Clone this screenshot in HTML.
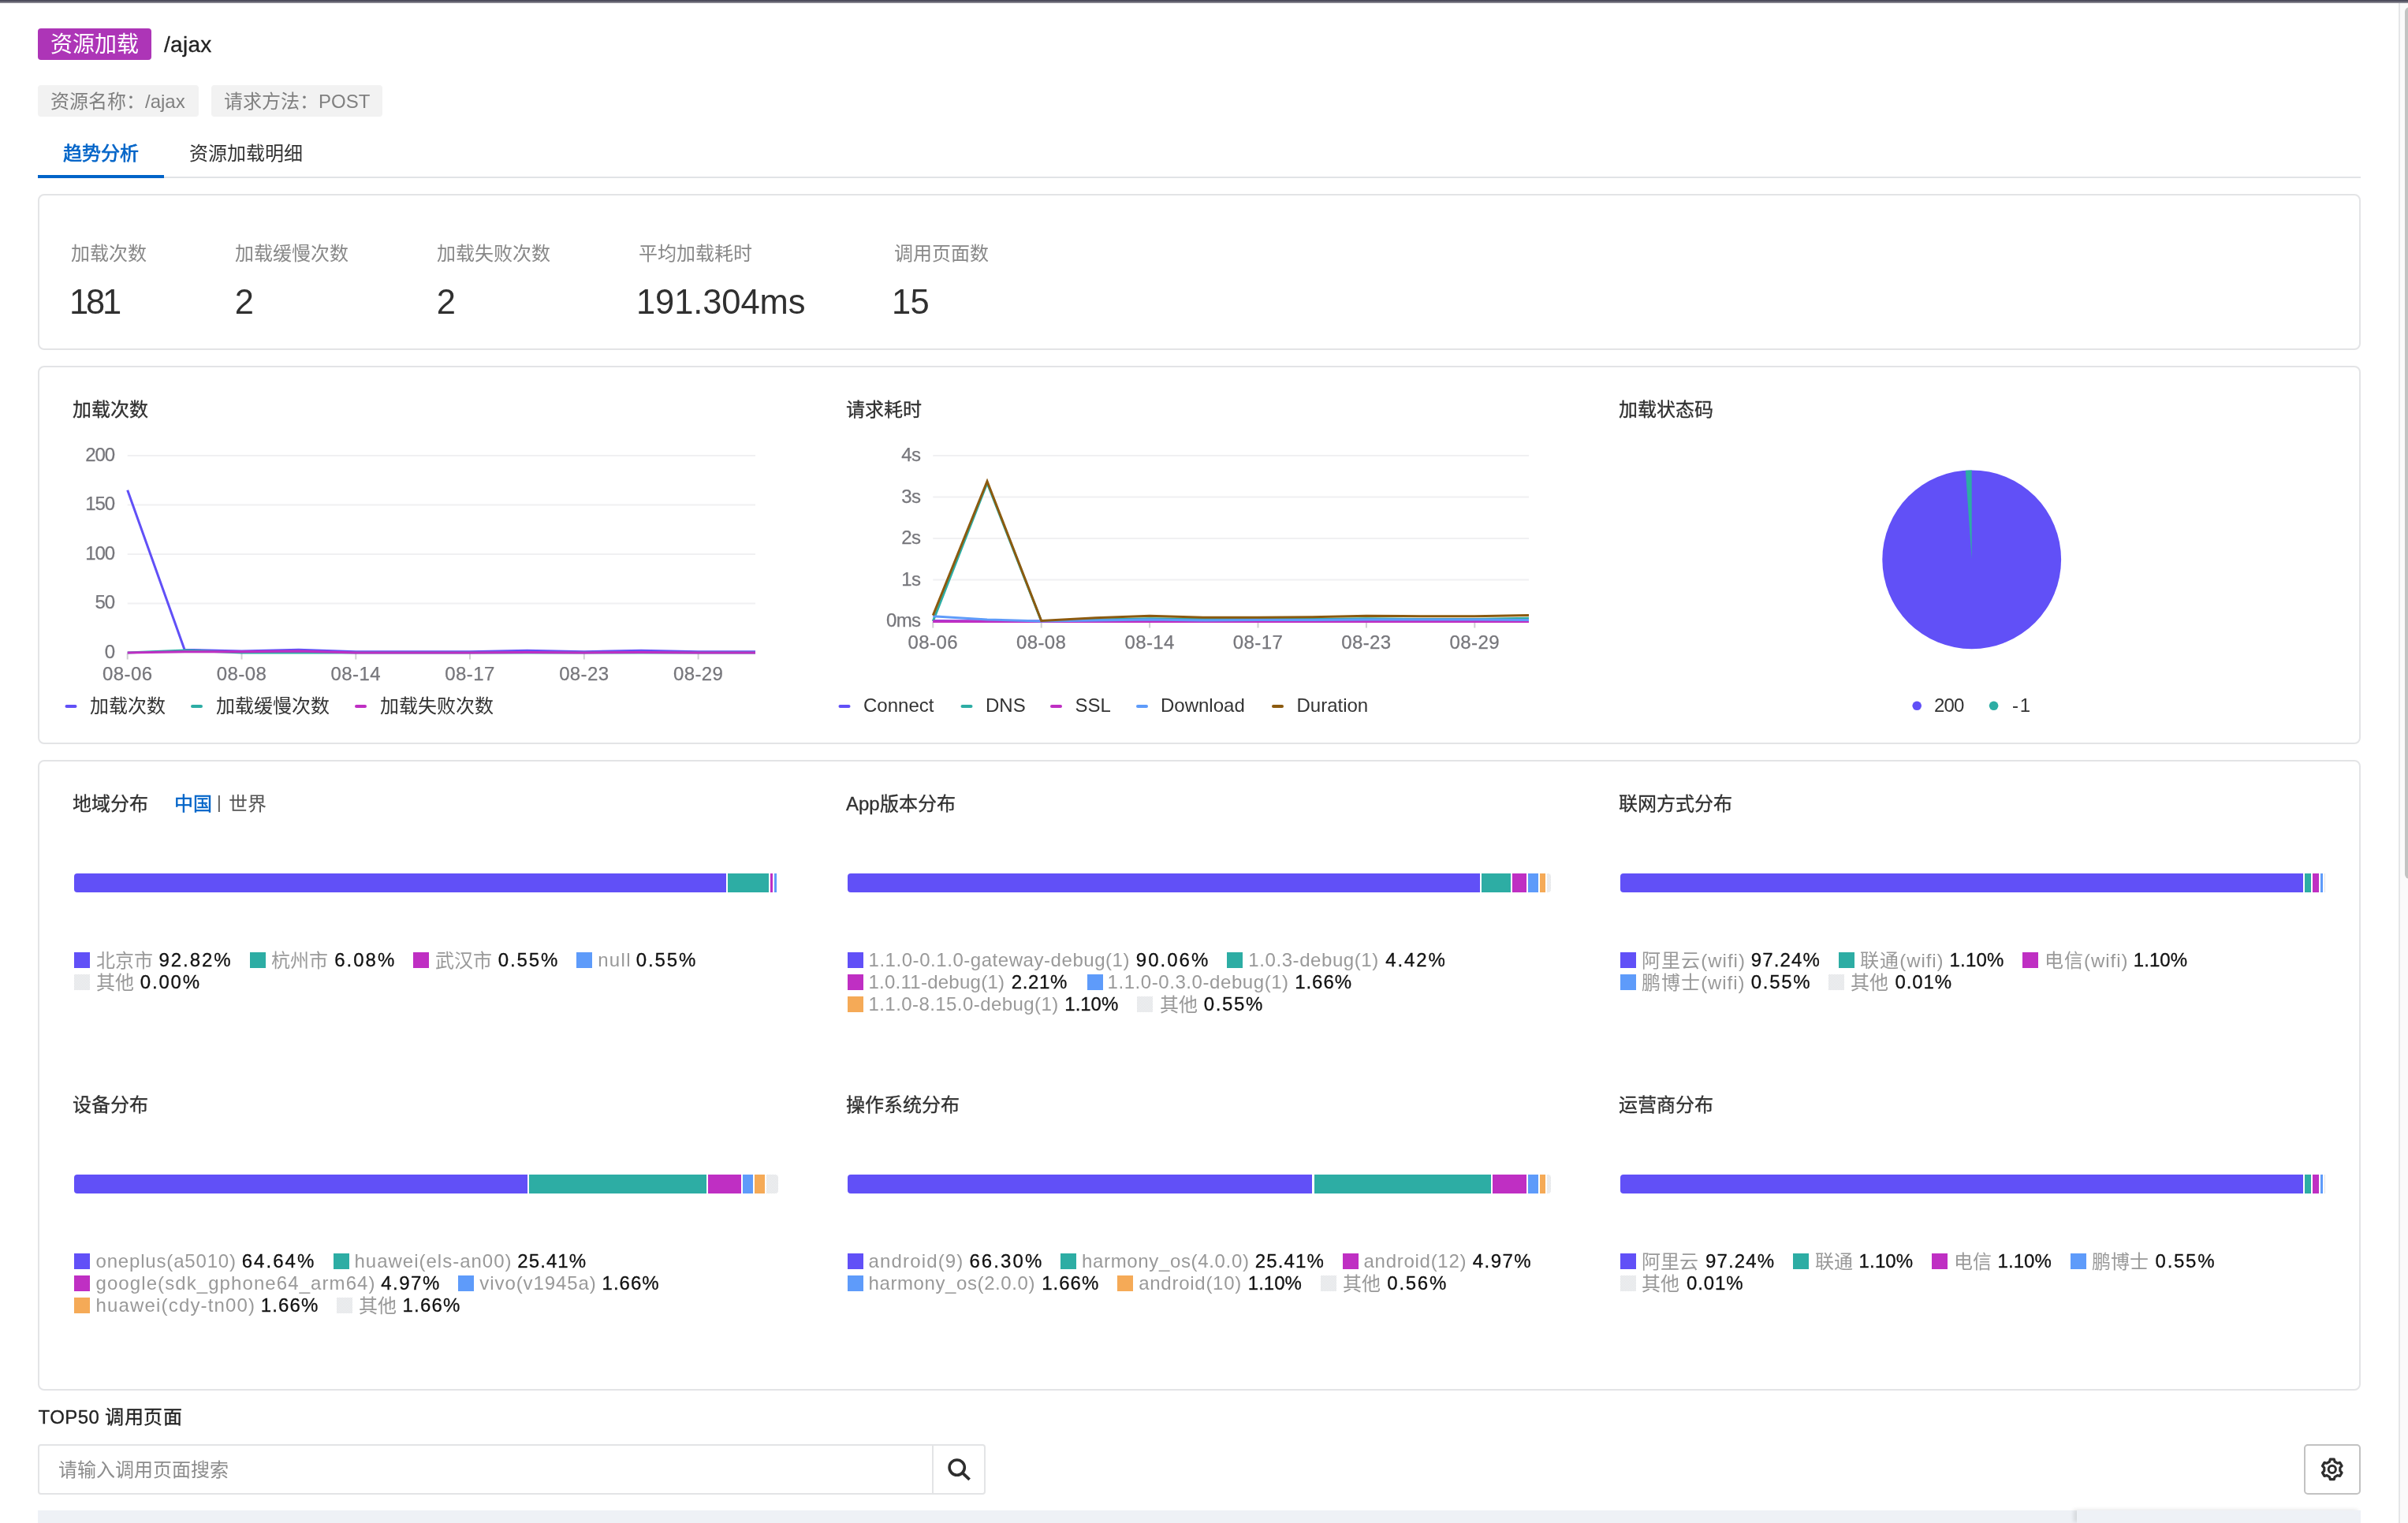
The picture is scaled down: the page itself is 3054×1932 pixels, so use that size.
<!DOCTYPE html>
<html lang="zh-CN"><head><meta charset="utf-8"><title>资源加载 /ajax</title><style>
html,body{margin:0;padding:0;background:#fff;}
body{width:3054px;height:1932px;overflow:hidden;position:relative;font-family:"Liberation Sans",sans-serif;}
#pg{position:absolute;left:0;top:0;width:3054px;height:1932px;will-change:transform;}
.t{position:absolute;white-space:nowrap;margin:0;}
.b{position:absolute;box-sizing:content-box;}
svg{position:absolute;left:0;top:0;}
</style></head>
<body><div id="pg">
<div class="b" style="left:0px;top:0px;width:3054px;height:4px;background:linear-gradient(#4d4c5c 0,#4f4e5e 45%,#75747f 55%,#8a8993 90%,#fff 100%);"></div>
<div class="b" style="left:3042px;top:4px;width:2px;height:1928px;background:#e5e6e8;"></div>
<div class="b" style="left:3044px;top:4px;width:10px;height:1928px;background:#fafafa;"></div>
<div class="b" style="left:3050px;top:9px;width:12px;height:1106px;background:#c2c3c2;border-radius:6px;"></div>
<div class="b" style="left:48px;top:36px;width:144px;height:40px;background:#ad35b7;border-radius:4px;"></div>
<div class="t" style="top:39.90px;font-size:28px;line-height:34px;color:#fff;left:64.00px;">资源加载</div>
<div class="t" style="top:40.00px;font-size:28px;line-height:34px;color:#222;letter-spacing:0.300px;left:208.00px;-webkit-text-stroke:0.3px #222;">/ajax</div>
<div class="b" style="left:48px;top:108px;width:204px;height:40px;background:#f2f2f2;border-radius:4px;"></div>
<div class="b" style="left:268px;top:108px;width:217px;height:40px;background:#f2f2f2;border-radius:4px;"></div>
<div class="t" style="top:115.20px;font-size:24px;line-height:28px;color:#808080;left:64.00px;">资源名称：/ajax</div>
<div class="t" style="top:115.20px;font-size:24px;line-height:28px;color:#808080;left:284.00px;">请求方法：POST</div>
<div class="t" style="top:181.40px;font-size:24px;line-height:28px;color:#0064c8;left:80.00px;-webkit-text-stroke:0.7px #0064c8;">趋势分析</div>
<div class="t" style="top:181.40px;font-size:24px;line-height:28px;color:#333;left:240.00px;">资源加载明细</div>
<div class="b" style="left:48px;top:224px;width:2946px;height:2px;background:#e1e3e6;"></div>
<div class="b" style="left:48px;top:222px;width:160px;height:4px;background:#0064c8;"></div>
<div class="b" style="left:48px;top:246px;width:2942px;height:194px;border:2px solid #e3e4e6;border-radius:8px;"></div>
<div class="b" style="left:48px;top:464px;width:2942px;height:476px;border:2px solid #e3e4e6;border-radius:8px;"></div>
<div class="b" style="left:48px;top:964px;width:2942px;height:796px;border:2px solid #e3e4e6;border-radius:8px;"></div>
<div class="t" style="top:308.20px;font-size:24px;line-height:28px;color:#888;left:90.40px;">加载次数</div>
<div class="t" style="top:357.60px;font-size:43.5px;line-height:50px;color:#303030;letter-spacing:-3.200px;left:88.00px;">181</div>
<div class="t" style="top:308.20px;font-size:24px;line-height:28px;color:#888;left:298.40px;">加载缓慢次数</div>
<div class="t" style="top:357.60px;font-size:43.5px;line-height:50px;color:#303030;left:297.70px;">2</div>
<div class="t" style="top:308.20px;font-size:24px;line-height:28px;color:#888;left:554.40px;">加载失败次数</div>
<div class="t" style="top:357.60px;font-size:43.5px;line-height:50px;color:#303030;left:553.70px;">2</div>
<div class="t" style="top:308.20px;font-size:24px;line-height:28px;color:#888;left:810.40px;">平均加载耗时</div>
<div class="t" style="top:357.60px;font-size:43.5px;line-height:50px;color:#303030;letter-spacing:-0.100px;left:807.00px;">191.304ms</div>
<div class="t" style="top:308.20px;font-size:24px;line-height:28px;color:#888;left:1134.40px;">调用页面数</div>
<div class="t" style="top:357.60px;font-size:43.5px;line-height:50px;color:#303030;letter-spacing:-0.600px;left:1131.00px;">15</div>
<div class="t" style="top:505.70px;font-size:24px;line-height:28px;color:#303030;left:91.50px;-webkit-text-stroke:0.3px #303030;">加载次数</div>
<div class="t" style="top:505.70px;font-size:24px;line-height:28px;color:#303030;left:1073.00px;-webkit-text-stroke:0.3px #303030;">请求耗时</div>
<div class="t" style="top:505.70px;font-size:24px;line-height:28px;color:#303030;left:2053.00px;-webkit-text-stroke:0.3px #303030;">加载状态码</div>
<div class="t" style="top:562.80px;font-size:24px;line-height:28px;color:#76767b;letter-spacing:-1.200px;right:2909.20px;-webkit-text-stroke:0.25px #76767b;">200</div>
<div class="t" style="top:625.30px;font-size:24px;line-height:28px;color:#76767b;letter-spacing:-1.200px;right:2909.20px;-webkit-text-stroke:0.25px #76767b;">150</div>
<div class="t" style="top:687.80px;font-size:24px;line-height:28px;color:#76767b;letter-spacing:-1.200px;right:2909.20px;-webkit-text-stroke:0.25px #76767b;">100</div>
<div class="t" style="top:750.30px;font-size:24px;line-height:28px;color:#76767b;letter-spacing:-1.200px;right:2909.20px;-webkit-text-stroke:0.25px #76767b;">50</div>
<div class="t" style="top:812.80px;font-size:24px;line-height:28px;color:#76767b;letter-spacing:-1.200px;right:2909.20px;-webkit-text-stroke:0.25px #76767b;">0</div>
<div class="t" style="top:840.50px;font-size:24px;line-height:28px;color:#76767b;letter-spacing:0.400px;left:-138.30px;width:600px;text-align:center;-webkit-text-stroke:0.25px #76767b;">08-06</div>
<div class="t" style="top:840.50px;font-size:24px;line-height:28px;color:#76767b;letter-spacing:0.400px;left:6.48px;width:600px;text-align:center;-webkit-text-stroke:0.25px #76767b;">08-08</div>
<div class="t" style="top:840.50px;font-size:24px;line-height:28px;color:#76767b;letter-spacing:0.400px;left:151.26px;width:600px;text-align:center;-webkit-text-stroke:0.25px #76767b;">08-14</div>
<div class="t" style="top:840.50px;font-size:24px;line-height:28px;color:#76767b;letter-spacing:0.400px;left:296.05px;width:600px;text-align:center;-webkit-text-stroke:0.25px #76767b;">08-17</div>
<div class="t" style="top:840.50px;font-size:24px;line-height:28px;color:#76767b;letter-spacing:0.400px;left:440.83px;width:600px;text-align:center;-webkit-text-stroke:0.25px #76767b;">08-23</div>
<div class="t" style="top:840.50px;font-size:24px;line-height:28px;color:#76767b;letter-spacing:0.400px;left:585.61px;width:600px;text-align:center;-webkit-text-stroke:0.25px #76767b;">08-29</div>
<div class="t" style="top:882.20px;font-size:24px;line-height:28px;color:#333;left:114.00px;">加载次数</div>
<div class="t" style="top:882.20px;font-size:24px;line-height:28px;color:#333;left:274.00px;">加载缓慢次数</div>
<div class="t" style="top:882.20px;font-size:24px;line-height:28px;color:#333;left:481.50px;">加载失败次数</div>
<div class="t" style="top:563.00px;font-size:24px;line-height:28px;color:#76767b;letter-spacing:-0.600px;right:1886.50px;-webkit-text-stroke:0.25px #76767b;">4s</div>
<div class="t" style="top:615.50px;font-size:24px;line-height:28px;color:#76767b;letter-spacing:-0.600px;right:1886.50px;-webkit-text-stroke:0.25px #76767b;">3s</div>
<div class="t" style="top:668.00px;font-size:24px;line-height:28px;color:#76767b;letter-spacing:-0.600px;right:1886.50px;-webkit-text-stroke:0.25px #76767b;">2s</div>
<div class="t" style="top:720.50px;font-size:24px;line-height:28px;color:#76767b;letter-spacing:-0.600px;right:1886.50px;-webkit-text-stroke:0.25px #76767b;">1s</div>
<div class="t" style="top:773.00px;font-size:24px;line-height:28px;color:#76767b;letter-spacing:-0.600px;right:1886.50px;-webkit-text-stroke:0.25px #76767b;">0ms</div>
<div class="t" style="top:801.00px;font-size:24px;line-height:28px;color:#76767b;letter-spacing:0.400px;left:883.30px;width:600px;text-align:center;-webkit-text-stroke:0.25px #76767b;">08-06</div>
<div class="t" style="top:801.00px;font-size:24px;line-height:28px;color:#76767b;letter-spacing:0.400px;left:1020.70px;width:600px;text-align:center;-webkit-text-stroke:0.25px #76767b;">08-08</div>
<div class="t" style="top:801.00px;font-size:24px;line-height:28px;color:#76767b;letter-spacing:0.400px;left:1158.10px;width:600px;text-align:center;-webkit-text-stroke:0.25px #76767b;">08-14</div>
<div class="t" style="top:801.00px;font-size:24px;line-height:28px;color:#76767b;letter-spacing:0.400px;left:1295.50px;width:600px;text-align:center;-webkit-text-stroke:0.25px #76767b;">08-17</div>
<div class="t" style="top:801.00px;font-size:24px;line-height:28px;color:#76767b;letter-spacing:0.400px;left:1432.90px;width:600px;text-align:center;-webkit-text-stroke:0.25px #76767b;">08-23</div>
<div class="t" style="top:801.00px;font-size:24px;line-height:28px;color:#76767b;letter-spacing:0.400px;left:1570.30px;width:600px;text-align:center;-webkit-text-stroke:0.25px #76767b;">08-29</div>
<div class="t" style="top:881.00px;font-size:24px;line-height:28px;color:#333;left:1095.00px;">Connect</div>
<div class="t" style="top:881.00px;font-size:24px;line-height:28px;color:#333;left:1250.00px;">DNS</div>
<div class="t" style="top:881.00px;font-size:24px;line-height:28px;color:#333;left:1363.50px;">SSL</div>
<div class="t" style="top:881.00px;font-size:24px;line-height:28px;color:#333;left:1472.00px;">Download</div>
<div class="t" style="top:881.00px;font-size:24px;line-height:28px;color:#333;left:1644.50px;">Duration</div>
<div class="t" style="top:880.50px;font-size:24px;line-height:28px;color:#333;letter-spacing:-0.900px;left:2453.00px;">200</div>
<div class="t" style="top:880.50px;font-size:24px;line-height:28px;color:#333;letter-spacing:1.800px;left:2552.00px;">-1</div>
<div class="t" style="top:1005.70px;font-size:24px;line-height:28px;color:#303030;left:91.50px;-webkit-text-stroke:0.3px #303030;">地域分布</div>
<div class="t" style="top:1005.70px;font-size:24px;line-height:28px;color:#0064c8;left:220.50px;-webkit-text-stroke:0.5px #0064c8;">中国</div>
<div class="t" style="top:1005.00px;font-size:22px;line-height:26px;color:#555;left:275.00px;">|</div>
<div class="t" style="top:1005.70px;font-size:24px;line-height:28px;color:#555;left:290.00px;">世界</div>
<div class="t" style="top:1005.70px;font-size:24px;line-height:28px;color:#303030;left:1073.00px;-webkit-text-stroke:0.3px #303030;">App版本分布</div>
<div class="t" style="top:1005.70px;font-size:24px;line-height:28px;color:#303030;left:2053.00px;-webkit-text-stroke:0.3px #303030;">联网方式分布</div>
<div class="t" style="top:1387.70px;font-size:24px;line-height:28px;color:#303030;left:91.50px;-webkit-text-stroke:0.3px #303030;">设备分布</div>
<div class="t" style="top:1387.70px;font-size:24px;line-height:28px;color:#303030;left:1073.00px;-webkit-text-stroke:0.3px #303030;">操作系统分布</div>
<div class="t" style="top:1387.70px;font-size:24px;line-height:28px;color:#303030;left:2053.00px;-webkit-text-stroke:0.3px #303030;">运营商分布</div>
<div class="b" style="left:94.00px;top:1108px;width:826.58px;height:24px;background:#6150f7;border-radius:4px 0 0 4px;"></div>
<div class="b" style="left:922.58px;top:1108px;width:52.27px;height:24px;background:#2dada4;"></div>
<div class="b" style="left:976.85px;top:1108px;width:2.91px;height:24px;background:#bf2fc3;"></div>
<div class="b" style="left:981.76px;top:1108px;width:2.91px;height:24px;background:#5e9bfa;"></div>
<div class="b" style="left:1074.67px;top:1108px;width:801.94px;height:24px;background:#6150f7;border-radius:4px 0 0 4px;"></div>
<div class="b" style="left:1878.61px;top:1108px;width:37.46px;height:24px;background:#2dada4;"></div>
<div class="b" style="left:1918.06px;top:1108px;width:17.73px;height:24px;background:#bf2fc3;"></div>
<div class="b" style="left:1937.79px;top:1108px;width:12.82px;height:24px;background:#5e9bfa;"></div>
<div class="b" style="left:1952.61px;top:1108px;width:7.82px;height:24px;background:#f5aa57;"></div>
<div class="b" style="left:1962.43px;top:1108px;width:4.91px;height:24px;background:repeating-conic-gradient(#e1e3e6 0% 25%,#f2f3f4 0% 50%) 0 0/2px 2px;border-radius:0 4px 4px 0;"></div>
<div class="b" style="left:2055.33px;top:1108px;width:866.03px;height:24px;background:#6150f7;border-radius:4px 0 0 4px;"></div>
<div class="b" style="left:2923.36px;top:1108px;width:7.82px;height:24px;background:#2dada4;"></div>
<div class="b" style="left:2933.18px;top:1108px;width:7.82px;height:24px;background:#bf2fc3;"></div>
<div class="b" style="left:2943.00px;top:1108px;width:2.91px;height:24px;background:#5e9bfa;"></div>
<div class="b" style="left:2947.91px;top:1108px;width:1.50px;height:24px;background:#e3e4e7;"></div>
<div class="b" style="left:94.00px;top:1490px;width:575.02px;height:24px;background:#6150f7;border-radius:4px 0 0 4px;"></div>
<div class="b" style="left:671.02px;top:1490px;width:224.83px;height:24px;background:#2dada4;"></div>
<div class="b" style="left:897.85px;top:1490px;width:42.37px;height:24px;background:#bf2fc3;"></div>
<div class="b" style="left:942.22px;top:1490px;width:12.82px;height:24px;background:#5e9bfa;"></div>
<div class="b" style="left:957.03px;top:1490px;width:12.82px;height:24px;background:#f5aa57;"></div>
<div class="b" style="left:971.85px;top:1490px;width:14.82px;height:24px;background:repeating-conic-gradient(#e1e3e6 0% 25%,#f2f3f4 0% 50%) 0 0/2px 2px;border-radius:0 4px 4px 0;"></div>
<div class="b" style="left:1074.67px;top:1490px;width:589.84px;height:24px;background:#6150f7;border-radius:4px 0 0 4px;"></div>
<div class="b" style="left:1666.51px;top:1490px;width:224.83px;height:24px;background:#2dada4;"></div>
<div class="b" style="left:1893.34px;top:1490px;width:42.37px;height:24px;background:#bf2fc3;"></div>
<div class="b" style="left:1937.70px;top:1490px;width:12.82px;height:24px;background:#5e9bfa;"></div>
<div class="b" style="left:1952.52px;top:1490px;width:7.82px;height:24px;background:#f5aa57;"></div>
<div class="b" style="left:1962.34px;top:1490px;width:5.00px;height:24px;background:repeating-conic-gradient(#e1e3e6 0% 25%,#f2f3f4 0% 50%) 0 0/2px 2px;border-radius:0 4px 4px 0;"></div>
<div class="b" style="left:2055.33px;top:1490px;width:866.03px;height:24px;background:#6150f7;border-radius:4px 0 0 4px;"></div>
<div class="b" style="left:2923.36px;top:1490px;width:7.82px;height:24px;background:#2dada4;"></div>
<div class="b" style="left:2933.18px;top:1490px;width:7.82px;height:24px;background:#bf2fc3;"></div>
<div class="b" style="left:2943.00px;top:1490px;width:2.91px;height:24px;background:#5e9bfa;"></div>
<div class="b" style="left:2947.91px;top:1490px;width:1.50px;height:24px;background:#e3e4e7;"></div>
<div class="b" style="left:94px;top:1208px;width:20px;height:20px;background:#6150f7;"></div>
<div class="t" style="top:1205.20px;font-size:24px;line-height:28px;color:#999;left:121.50px;">北京市</div>
<div class="t" style="top:1204.00px;font-size:24px;line-height:28px;color:#111;letter-spacing:1.899px;left:201.60px;-webkit-text-stroke:0.3px #111;">92.82%</div>
<div class="b" style="left:317px;top:1208px;width:20px;height:20px;background:#2dada4;"></div>
<div class="t" style="top:1205.20px;font-size:24px;line-height:28px;color:#999;left:343.50px;">杭州市</div>
<div class="t" style="top:1204.00px;font-size:24px;line-height:28px;color:#111;letter-spacing:2.009px;left:424.20px;-webkit-text-stroke:0.3px #111;">6.08%</div>
<div class="b" style="left:524px;top:1208px;width:20px;height:20px;background:#bf2fc3;"></div>
<div class="t" style="top:1205.20px;font-size:24px;line-height:28px;color:#999;left:551.50px;">武汉市</div>
<div class="t" style="top:1204.00px;font-size:24px;line-height:28px;color:#111;letter-spacing:1.859px;left:631.80px;-webkit-text-stroke:0.3px #111;">0.55%</div>
<div class="b" style="left:731px;top:1208px;width:20px;height:20px;background:#5e9bfa;"></div>
<div class="t" style="top:1204.00px;font-size:24px;line-height:28px;color:#999;letter-spacing:1.314px;left:758.20px;">null</div>
<div class="t" style="top:1204.00px;font-size:24px;line-height:28px;color:#111;letter-spacing:1.859px;left:806.80px;-webkit-text-stroke:0.3px #111;">0.55%</div>
<div class="b" style="left:94px;top:1236px;width:20px;height:20px;background:repeating-conic-gradient(#e1e3e6 0% 25%,#f2f3f4 0% 50%) 0 0/2px 2px;"></div>
<div class="t" style="top:1233.20px;font-size:24px;line-height:28px;color:#999;left:121.50px;">其他</div>
<div class="t" style="top:1232.00px;font-size:24px;line-height:28px;color:#111;letter-spacing:1.809px;left:177.80px;-webkit-text-stroke:0.3px #111;">0.00%</div>
<div class="b" style="left:1075px;top:1208px;width:20px;height:20px;background:#6150f7;"></div>
<div class="t" style="top:1204.00px;font-size:24px;line-height:28px;color:#999;letter-spacing:0.548px;left:1101.50px;">1.1.0-0.1.0-gateway-debug(1)</div>
<div class="t" style="top:1204.00px;font-size:24px;line-height:28px;color:#111;letter-spacing:2.019px;left:1440.80px;-webkit-text-stroke:0.3px #111;">90.06%</div>
<div class="b" style="left:1555.8px;top:1208px;width:20px;height:20px;background:#2dada4;"></div>
<div class="t" style="top:1204.00px;font-size:24px;line-height:28px;color:#999;letter-spacing:0.581px;left:1583.30px;">1.0.3-debug(1)</div>
<div class="t" style="top:1204.00px;font-size:24px;line-height:28px;color:#111;letter-spacing:1.884px;left:1757.20px;-webkit-text-stroke:0.3px #111;">4.42%</div>
<div class="b" style="left:1075px;top:1236px;width:20px;height:20px;background:#bf2fc3;"></div>
<div class="t" style="top:1232.00px;font-size:24px;line-height:28px;color:#999;letter-spacing:0.249px;left:1101.50px;">1.0.11-debug(1)</div>
<div class="t" style="top:1232.00px;font-size:24px;line-height:28px;color:#111;letter-spacing:0.609px;left:1282.80px;-webkit-text-stroke:0.3px #111;">2.21%</div>
<div class="b" style="left:1378.5px;top:1236px;width:20px;height:20px;background:#5e9bfa;"></div>
<div class="t" style="top:1232.00px;font-size:24px;line-height:28px;color:#999;letter-spacing:0.568px;left:1404.50px;">1.1.0-0.3.0-debug(1)</div>
<div class="t" style="top:1232.00px;font-size:24px;line-height:28px;color:#111;letter-spacing:0.959px;left:1642.20px;-webkit-text-stroke:0.3px #111;">1.66%</div>
<div class="b" style="left:1075px;top:1264px;width:20px;height:20px;background:#f5aa57;"></div>
<div class="t" style="top:1260.00px;font-size:24px;line-height:28px;color:#999;letter-spacing:0.426px;left:1101.50px;">1.1.0-8.15.0-debug(1)</div>
<div class="t" style="top:1260.00px;font-size:24px;line-height:28px;color:#111;letter-spacing:-0.016px;left:1350.30px;-webkit-text-stroke:0.3px #111;">1.10%</div>
<div class="b" style="left:1442px;top:1264px;width:20px;height:20px;background:repeating-conic-gradient(#e1e3e6 0% 25%,#f2f3f4 0% 50%) 0 0/2px 2px;"></div>
<div class="t" style="top:1261.20px;font-size:24px;line-height:28px;color:#999;left:1470.50px;">其他</div>
<div class="t" style="top:1260.00px;font-size:24px;line-height:28px;color:#111;letter-spacing:1.609px;left:1526.80px;-webkit-text-stroke:0.3px #111;">0.55%</div>
<div class="b" style="left:2055px;top:1208px;width:20px;height:20px;background:#6150f7;"></div>
<div class="t" style="top:1205.20px;font-size:24px;line-height:28px;color:#999;letter-spacing:0.993px;left:2082.30px;">阿里云(wifi)</div>
<div class="t" style="top:1204.00px;font-size:24px;line-height:28px;color:#111;letter-spacing:1.119px;left:2220.80px;-webkit-text-stroke:0.3px #111;">97.24%</div>
<div class="b" style="left:2332.2px;top:1208px;width:20px;height:20px;background:#2dada4;"></div>
<div class="t" style="top:1205.20px;font-size:24px;line-height:28px;color:#999;letter-spacing:0.921px;left:2359.40px;">联通(wifi)</div>
<div class="t" style="top:1204.00px;font-size:24px;line-height:28px;color:#111;letter-spacing:0.184px;left:2472.50px;-webkit-text-stroke:0.3px #111;">1.10%</div>
<div class="b" style="left:2565px;top:1208px;width:20px;height:20px;background:#bf2fc3;"></div>
<div class="t" style="top:1205.20px;font-size:24px;line-height:28px;color:#999;letter-spacing:0.963px;left:2593.10px;">电信(wifi)</div>
<div class="t" style="top:1204.00px;font-size:24px;line-height:28px;color:#111;letter-spacing:0.034px;left:2705.80px;-webkit-text-stroke:0.3px #111;">1.10%</div>
<div class="b" style="left:2055px;top:1236px;width:20px;height:20px;background:#5e9bfa;"></div>
<div class="t" style="top:1233.20px;font-size:24px;line-height:28px;color:#999;letter-spacing:0.943px;left:2082.30px;">鹏博士(wifi)</div>
<div class="t" style="top:1232.00px;font-size:24px;line-height:28px;color:#111;letter-spacing:1.684px;left:2220.80px;-webkit-text-stroke:0.3px #111;">0.55%</div>
<div class="b" style="left:2319px;top:1236px;width:20px;height:20px;background:repeating-conic-gradient(#e1e3e6 0% 25%,#f2f3f4 0% 50%) 0 0/2px 2px;"></div>
<div class="t" style="top:1233.20px;font-size:24px;line-height:28px;color:#999;left:2347.20px;">其他</div>
<div class="t" style="top:1232.00px;font-size:24px;line-height:28px;color:#111;letter-spacing:0.859px;left:2403.50px;-webkit-text-stroke:0.3px #111;">0.01%</div>
<div class="b" style="left:94px;top:1590px;width:20px;height:20px;background:#6150f7;"></div>
<div class="t" style="top:1586.00px;font-size:24px;line-height:28px;color:#999;letter-spacing:0.823px;left:121.50px;">oneplus(a5010)</div>
<div class="t" style="top:1586.00px;font-size:24px;line-height:28px;color:#111;letter-spacing:2.039px;left:306.70px;-webkit-text-stroke:0.3px #111;">64.64%</div>
<div class="b" style="left:422.9px;top:1590px;width:20px;height:20px;background:#2dada4;"></div>
<div class="t" style="top:1586.00px;font-size:24px;line-height:28px;color:#999;letter-spacing:0.993px;left:449.50px;">huawei(els-an00)</div>
<div class="t" style="top:1586.00px;font-size:24px;line-height:28px;color:#111;letter-spacing:1.079px;left:656.30px;-webkit-text-stroke:0.3px #111;">25.41%</div>
<div class="b" style="left:94px;top:1618px;width:20px;height:20px;background:#bf2fc3;"></div>
<div class="t" style="top:1614.00px;font-size:24px;line-height:28px;color:#999;letter-spacing:1.084px;left:121.50px;">google(sdk_gphone64_arm64)</div>
<div class="t" style="top:1614.00px;font-size:24px;line-height:28px;color:#111;letter-spacing:1.509px;left:483.20px;-webkit-text-stroke:0.3px #111;">4.97%</div>
<div class="b" style="left:581px;top:1618px;width:20px;height:20px;background:#5e9bfa;"></div>
<div class="t" style="top:1614.00px;font-size:24px;line-height:28px;color:#999;letter-spacing:0.918px;left:608.30px;">vivo(v1945a)</div>
<div class="t" style="top:1614.00px;font-size:24px;line-height:28px;color:#111;letter-spacing:1.034px;left:763.50px;-webkit-text-stroke:0.3px #111;">1.66%</div>
<div class="b" style="left:94px;top:1646px;width:20px;height:20px;background:#f5aa57;"></div>
<div class="t" style="top:1642.00px;font-size:24px;line-height:28px;color:#999;letter-spacing:1.167px;left:121.50px;">huawei(cdy-tn00)</div>
<div class="t" style="top:1642.00px;font-size:24px;line-height:28px;color:#111;letter-spacing:1.109px;left:330.80px;-webkit-text-stroke:0.3px #111;">1.66%</div>
<div class="b" style="left:427px;top:1646px;width:20px;height:20px;background:repeating-conic-gradient(#e1e3e6 0% 25%,#f2f3f4 0% 50%) 0 0/2px 2px;"></div>
<div class="t" style="top:1643.20px;font-size:24px;line-height:28px;color:#999;left:455.00px;">其他</div>
<div class="t" style="top:1642.00px;font-size:24px;line-height:28px;color:#111;letter-spacing:1.159px;left:510.60px;-webkit-text-stroke:0.3px #111;">1.66%</div>
<div class="b" style="left:1075px;top:1590px;width:20px;height:20px;background:#6150f7;"></div>
<div class="t" style="top:1586.00px;font-size:24px;line-height:28px;color:#999;letter-spacing:1.155px;left:1101.50px;">android(9)</div>
<div class="t" style="top:1586.00px;font-size:24px;line-height:28px;color:#111;letter-spacing:2.099px;left:1229.40px;-webkit-text-stroke:0.3px #111;">66.30%</div>
<div class="b" style="left:1345.2px;top:1590px;width:20px;height:20px;background:#2dada4;"></div>
<div class="t" style="top:1586.00px;font-size:24px;line-height:28px;color:#999;letter-spacing:0.654px;left:1372.00px;">harmony_os(4.0.0)</div>
<div class="t" style="top:1586.00px;font-size:24px;line-height:28px;color:#111;letter-spacing:1.119px;left:1591.80px;-webkit-text-stroke:0.3px #111;">25.41%</div>
<div class="b" style="left:1702.8px;top:1590px;width:20px;height:20px;background:#bf2fc3;"></div>
<div class="t" style="top:1586.00px;font-size:24px;line-height:28px;color:#999;letter-spacing:0.725px;left:1729.50px;">android(12)</div>
<div class="t" style="top:1586.00px;font-size:24px;line-height:28px;color:#111;letter-spacing:1.434px;left:1867.80px;-webkit-text-stroke:0.3px #111;">4.97%</div>
<div class="b" style="left:1075px;top:1618px;width:20px;height:20px;background:#5e9bfa;"></div>
<div class="t" style="top:1614.00px;font-size:24px;line-height:28px;color:#999;letter-spacing:0.598px;left:1101.50px;">harmony_os(2.0.0)</div>
<div class="t" style="top:1614.00px;font-size:24px;line-height:28px;color:#111;letter-spacing:1.009px;left:1321.20px;-webkit-text-stroke:0.3px #111;">1.66%</div>
<div class="b" style="left:1417px;top:1618px;width:20px;height:20px;background:#f5aa57;"></div>
<div class="t" style="top:1614.00px;font-size:24px;line-height:28px;color:#999;letter-spacing:0.735px;left:1444.20px;">android(10)</div>
<div class="t" style="top:1614.00px;font-size:24px;line-height:28px;color:#111;letter-spacing:0.009px;left:1582.80px;-webkit-text-stroke:0.3px #111;">1.10%</div>
<div class="b" style="left:1675.4px;top:1618px;width:20px;height:20px;background:repeating-conic-gradient(#e1e3e6 0% 25%,#f2f3f4 0% 50%) 0 0/2px 2px;"></div>
<div class="t" style="top:1615.20px;font-size:24px;line-height:28px;color:#999;left:1703.00px;">其他</div>
<div class="t" style="top:1614.00px;font-size:24px;line-height:28px;color:#111;letter-spacing:1.734px;left:1759.30px;-webkit-text-stroke:0.3px #111;">0.56%</div>
<div class="b" style="left:2055px;top:1590px;width:20px;height:20px;background:#6150f7;"></div>
<div class="t" style="top:1587.20px;font-size:24px;line-height:28px;color:#999;left:2082.30px;">阿里云</div>
<div class="t" style="top:1586.00px;font-size:24px;line-height:28px;color:#111;letter-spacing:1.159px;left:2163.00px;-webkit-text-stroke:0.3px #111;">97.24%</div>
<div class="b" style="left:2274.1px;top:1590px;width:20px;height:20px;background:#2dada4;"></div>
<div class="t" style="top:1587.20px;font-size:24px;line-height:28px;color:#999;left:2301.70px;">联通</div>
<div class="t" style="top:1586.00px;font-size:24px;line-height:28px;color:#111;letter-spacing:0.134px;left:2357.60px;-webkit-text-stroke:0.3px #111;">1.10%</div>
<div class="b" style="left:2450.1px;top:1590px;width:20px;height:20px;background:#bf2fc3;"></div>
<div class="t" style="top:1587.20px;font-size:24px;line-height:28px;color:#999;left:2478.10px;">电信</div>
<div class="t" style="top:1586.00px;font-size:24px;line-height:28px;color:#111;letter-spacing:0.034px;left:2533.60px;-webkit-text-stroke:0.3px #111;">1.10%</div>
<div class="b" style="left:2626.2px;top:1590px;width:20px;height:20px;background:#5e9bfa;"></div>
<div class="t" style="top:1587.20px;font-size:24px;line-height:28px;color:#999;left:2652.50px;">鹏博士</div>
<div class="t" style="top:1586.00px;font-size:24px;line-height:28px;color:#111;letter-spacing:1.709px;left:2733.60px;-webkit-text-stroke:0.3px #111;">0.55%</div>
<div class="b" style="left:2055px;top:1618px;width:20px;height:20px;background:repeating-conic-gradient(#e1e3e6 0% 25%,#f2f3f4 0% 50%) 0 0/2px 2px;"></div>
<div class="t" style="top:1615.20px;font-size:24px;line-height:28px;color:#999;left:2082.30px;">其他</div>
<div class="t" style="top:1614.00px;font-size:24px;line-height:28px;color:#111;letter-spacing:0.884px;left:2139.00px;-webkit-text-stroke:0.3px #111;">0.01%</div>
<div class="t" style="top:1784.20px;font-size:24px;line-height:28px;color:#222;letter-spacing:0.450px;left:48.50px;-webkit-text-stroke:0.3px #222;">TOP50 调用页面</div>
<div class="b" style="left:48px;top:1832px;width:1198px;height:60px;border:2px solid #e3e4e6;border-radius:4px;"></div>
<div class="b" style="left:1182px;top:1834px;width:2px;height:60px;background:#e3e4e6;"></div>
<div class="t" style="top:1851.20px;font-size:24px;line-height:28px;color:#8c8c8c;left:74.00px;">请输入调用页面搜索</div>
<div class="b" style="left:2922px;top:1832px;width:68px;height:60px;border:2px solid #c2c2c2;border-radius:5px;"></div>
<div class="b" style="left:48px;top:1916px;width:2946px;height:16px;background:#eef1f6;"></div>
<div class="b" style="left:2634px;top:1916px;width:360px;height:16px;background:#eef1f6;box-shadow:-4px -1px 5px rgba(0,0,0,0.10);"></div>
<svg width="3054" height="1932" viewBox="0 0 3054 1932">
<line x1="161.7" y1="578" x2="958.0" y2="578" stroke="#f0f0f2" stroke-width="2"/>
<line x1="161.7" y1="640.5" x2="958.0" y2="640.5" stroke="#f0f0f2" stroke-width="2"/>
<line x1="161.7" y1="703" x2="958.0" y2="703" stroke="#f0f0f2" stroke-width="2"/>
<line x1="161.7" y1="765.5" x2="958.0" y2="765.5" stroke="#f0f0f2" stroke-width="2"/>
<line x1="161.7" y1="828" x2="958.0" y2="828" stroke="#f0f0f2" stroke-width="2"/>
<line x1="161.7" y1="829" x2="161.7" y2="836.5" stroke="#cfcfd2" stroke-width="2"/>
<line x1="306.5" y1="829" x2="306.5" y2="836.5" stroke="#cfcfd2" stroke-width="2"/>
<line x1="451.3" y1="829" x2="451.3" y2="836.5" stroke="#cfcfd2" stroke-width="2"/>
<line x1="596.0" y1="829" x2="596.0" y2="836.5" stroke="#cfcfd2" stroke-width="2"/>
<line x1="740.8" y1="829" x2="740.8" y2="836.5" stroke="#cfcfd2" stroke-width="2"/>
<line x1="885.6" y1="829" x2="885.6" y2="836.5" stroke="#cfcfd2" stroke-width="2"/>
<polyline points="161.7,621.8 234.1,824.2 306.5,826.1 378.9,824.2 451.3,826.8 523.7,826.8 596.0,826.8 668.4,825.2 740.8,826.8 813.2,825.2 885.6,826.8 958.0,826.8" fill="none" stroke="#6150f7" stroke-width="3" stroke-linejoin="miter" stroke-miterlimit="10" stroke-linecap="butt"/>
<polyline points="161.7,828.0 234.1,824.9 306.5,828.0 378.9,828.0 451.3,828.0 523.7,828.0 596.0,828.0 668.4,828.0 740.8,828.0 813.2,828.0 885.6,828.0 958.0,828.0" fill="none" stroke="#2dada4" stroke-width="3" stroke-linejoin="miter" stroke-miterlimit="10" stroke-linecap="butt"/>
<polyline points="161.7,828.0 234.1,826.8 306.5,826.8 378.9,826.1 451.3,828.0 523.7,828.0 596.0,828.0 668.4,827.4 740.8,828.0 813.2,827.4 885.6,828.0 958.0,828.0" fill="none" stroke="#bf2fc3" stroke-width="3" stroke-linejoin="miter" stroke-miterlimit="10" stroke-linecap="butt"/>
<line x1="84.5" y1="896" x2="95.5" y2="896" stroke="#6150f7" stroke-width="4" stroke-linecap="round"/>
<line x1="244" y1="896" x2="255" y2="896" stroke="#2dada4" stroke-width="4" stroke-linecap="round"/>
<line x1="452" y1="896" x2="463" y2="896" stroke="#bf2fc3" stroke-width="4" stroke-linecap="round"/>
<line x1="1183.3" y1="578" x2="1939.0" y2="578" stroke="#f0f0f2" stroke-width="2"/>
<line x1="1183.3" y1="630.5" x2="1939.0" y2="630.5" stroke="#f0f0f2" stroke-width="2"/>
<line x1="1183.3" y1="683" x2="1939.0" y2="683" stroke="#f0f0f2" stroke-width="2"/>
<line x1="1183.3" y1="735.5" x2="1939.0" y2="735.5" stroke="#f0f0f2" stroke-width="2"/>
<line x1="1183.3" y1="788" x2="1939.0" y2="788" stroke="#f0f0f2" stroke-width="2"/>
<line x1="1183.3" y1="789" x2="1183.3" y2="796.5" stroke="#cfcfd2" stroke-width="2"/>
<line x1="1320.7" y1="789" x2="1320.7" y2="796.5" stroke="#cfcfd2" stroke-width="2"/>
<line x1="1458.1" y1="789" x2="1458.1" y2="796.5" stroke="#cfcfd2" stroke-width="2"/>
<line x1="1595.5" y1="789" x2="1595.5" y2="796.5" stroke="#cfcfd2" stroke-width="2"/>
<line x1="1732.9" y1="789" x2="1732.9" y2="796.5" stroke="#cfcfd2" stroke-width="2"/>
<line x1="1870.3" y1="789" x2="1870.3" y2="796.5" stroke="#cfcfd2" stroke-width="2"/>
<polyline points="1183.3,787.5 1252.0,788.0 1320.7,788.0 1389.4,788.0 1458.1,788.0 1526.8,788.0 1595.5,788.0 1664.2,788.0 1732.9,788.0 1801.6,788.0 1870.3,788.0 1939.0,788.0" fill="none" stroke="#6150f7" stroke-width="3" stroke-linejoin="miter" stroke-miterlimit="10" stroke-linecap="butt"/>
<polyline points="1183.3,788.0 1252.0,612.6 1320.7,788.0 1389.4,785.9 1458.1,784.8 1526.8,785.4 1595.5,785.4 1664.2,785.4 1732.9,784.8 1801.6,785.4 1870.3,785.4 1939.0,784.3" fill="none" stroke="#2dada4" stroke-width="3" stroke-linejoin="miter" stroke-miterlimit="10" stroke-linecap="butt"/>
<polyline points="1183.3,788.0 1252.0,788.0 1320.7,788.0 1389.4,788.0 1458.1,788.0 1526.8,788.0 1595.5,788.0 1664.2,788.0 1732.9,788.0 1801.6,788.0 1870.3,788.0 1939.0,788.0" fill="none" stroke="#bf2fc3" stroke-width="3" stroke-linejoin="miter" stroke-miterlimit="10" stroke-linecap="butt"/>
<line x1="1183.3" y1="788.5" x2="1939.0" y2="788.5" stroke="#bf2fc3" stroke-width="3"/>
<polyline points="1183.3,781.7 1252.0,785.9 1320.7,788.0 1389.4,786.9 1458.1,785.9 1526.8,786.9 1595.5,786.4 1664.2,786.4 1732.9,785.9 1801.6,785.9 1870.3,785.9 1939.0,786.4" fill="none" stroke="#5e9bfa" stroke-width="3" stroke-linejoin="miter" stroke-miterlimit="10" stroke-linecap="butt"/>
<polyline points="1183.3,780.6 1252.0,610.5 1320.7,787.5 1389.4,783.8 1458.1,781.2 1526.8,783.3 1595.5,783.3 1664.2,782.7 1732.9,781.2 1801.6,781.7 1870.3,781.7 1939.0,780.6" fill="none" stroke="#8c5a0f" stroke-width="3" stroke-linejoin="miter" stroke-miterlimit="10" stroke-linecap="butt"/>
<line x1="1065.5" y1="896" x2="1076.5" y2="896" stroke="#6150f7" stroke-width="4" stroke-linecap="round"/>
<line x1="1220.5" y1="896" x2="1231.5" y2="896" stroke="#2dada4" stroke-width="4" stroke-linecap="round"/>
<line x1="1334" y1="896" x2="1345" y2="896" stroke="#bf2fc3" stroke-width="4" stroke-linecap="round"/>
<line x1="1443" y1="896" x2="1454" y2="896" stroke="#5e9bfa" stroke-width="4" stroke-linecap="round"/>
<line x1="1615" y1="896" x2="1626" y2="896" stroke="#8c5a0f" stroke-width="4" stroke-linecap="round"/>
<circle cx="2500.7" cy="709.8" r="113.4" fill="#6150f7"/>
<path d="M2500.7,709.8 L2492.79,596.68 A113.4,113.4 0 0 1 2500.7,596.4 Z" fill="#2dada4"/>
<circle cx="2431.2" cy="895.3" r="5.8" fill="#6150f7"/>
<circle cx="2528.6" cy="895.3" r="5.8" fill="#2dada4"/>
<circle cx="1213.7" cy="1861.6" r="9.6" fill="none" stroke="#2e2e2e" stroke-width="3.6"/>
<line x1="1220.6" y1="1868.4" x2="1229.6" y2="1876.9" stroke="#2e2e2e" stroke-width="3.8"/>
<path d="M2954.48,1854.26 L2955.32,1851.14 L2960.28,1851.14 L2961.12,1854.26 L2964.49,1856.20 L2967.61,1855.37 L2970.09,1859.67 L2967.81,1861.95 L2967.81,1865.85 L2970.09,1868.13 L2967.61,1872.43 L2964.49,1871.60 L2961.12,1873.54 L2960.28,1876.66 L2955.32,1876.66 L2954.48,1873.54 L2951.11,1871.60 L2947.99,1872.43 L2945.51,1868.13 L2947.79,1865.85 L2947.79,1861.95 L2945.51,1859.67 L2947.99,1855.37 L2951.11,1856.20 Z" fill="none" stroke="#2e2e2e" stroke-width="3.2" stroke-linejoin="round"/>
<circle cx="2957.8" cy="1863.9" r="4.6" fill="none" stroke="#2e2e2e" stroke-width="3"/>
</svg>
</div></body></html>
